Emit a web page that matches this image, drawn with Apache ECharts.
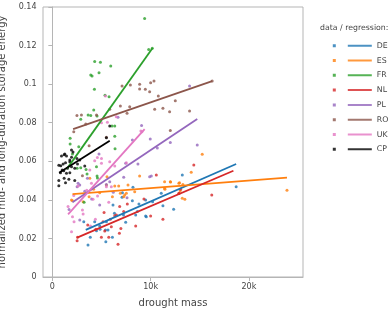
<!DOCTYPE html>
<html>
<head>
<meta charset="utf-8">
<script src="https://cdn.jsdelivr.net/npm/echarts@6/dist/echarts.min.js"></script>
<style>
  html, body { margin: 0; padding: 0; background: #fff; }
  #chart { width: 391px; height: 312px; }
</style>
</head>
<body>
<div id="chart"></div>
<script>
// drought mass in thousands, normalized storage energy
const groupNames = ['DE', 'ES', 'FR', 'NL', 'PL', 'RO', 'UK', 'CP'];
const xTicks = [0, 10, 20];

const deData = [[3.86,0.0206],[3.63,0.0166],[3.2,0.0287],[5.5,0.0287],[8.2,0.0465],[8.81,0.0379],[9.56,0.0313],[11.08,0.0434],[13.22,0.0529],[4.85,0.0247],[5.44,0.0183],[6.32,0.033],[7.24,0.0321],[8.65,0.0339],[7.13,0.0437],[8.14,0.0396],[9.49,0.0399],[8.48,0.0321],[9.49,0.0316],[7.46,0.0284],[11.25,0.037],[12.34,0.0351],[18.7,0.0468],[6.17,0.0373],[7.09,0.0413],[5.4,0.0244],[4.31,0.0287],[4.82,0.0264],[4.49,0.024],[5.66,0.0244],[6.11,0.0206],[10.2,0.039]];
const esData = [[2.05,0.0396],[3.13,0.039],[3.74,0.0416],[5.56,0.052],[6.35,0.0472],[6.92,0.0434],[7.26,0.0416],[7.7,0.0477],[8.88,0.0524],[11.42,0.0494],[13.22,0.0408],[6.11,0.0416],[4.82,0.0437],[15.25,0.0636],[14.13,0.0543],[12.03,0.0493],[12.94,0.0489],[13.28,0.0479],[11.45,0.0455],[13.01,0.0447],[13.48,0.0403],[12.91,0.0434],[23.87,0.045],[12.0,0.0494],[12.87,0.0486],[7.36,0.0425],[7.53,0.0434],[8.38,0.0442],[11.42,0.046],[3.81,0.0512],[5.5,0.0477],[6.75,0.0472],[1.95,0.0399],[4.2,0.0455]];
const frData = [[9.39,0.134],[9.8,0.118],[10.17,0.1186],[4.31,0.1117],[4.89,0.1113],[3.91,0.1047],[4.04,0.1042],[4.75,0.1059],[5.94,0.1094],[4.28,0.0973],[5.36,0.0942],[5.77,0.0935],[4.21,0.0866],[3.64,0.084],[3.91,0.0838],[4.55,0.0835],[2.89,0.0818],[6.35,0.0783],[6.07,0.0783],[6.35,0.073],[1.81,0.0719],[1.81,0.069],[2.69,0.0676],[6.38,0.0665],[2.05,0.0638],[2.89,0.0567],[2.52,0.0564],[3.43,0.0558],[3.53,0.0534],[4.49,0.0572],[4.59,0.0513],[4.55,0.0524],[3.23,0.0387]];
const nlData = [[2.52,0.0188],[5.33,0.0239],[5.74,0.0206],[6.68,0.017],[5.16,0.0287],[7.26,0.0339],[7.63,0.0379],[8.48,0.0264],[9.32,0.0404],[10.0,0.0316],[11.25,0.0299],[14.39,0.0581],[6.85,0.0365],[6.35,0.0318],[10.58,0.0529],[16.22,0.0425],[12.87,0.0434],[13.05,0.0455],[6.97,0.0252],[6.82,0.0227],[5.26,0.0335],[6.52,0.0321],[6.0,0.0261],[4.42,0.0247],[4.99,0.0206],[2.56,0.0206],[5.9,0.03],[3.6,0.027]];
const plData = [[6.68,0.0828],[4.75,0.0638],[9.08,0.0785],[9.96,0.0716],[10.68,0.0669],[12.0,0.0698],[13.96,0.099],[14.74,0.0684],[8.14,0.071],[8.71,0.0586],[7.46,0.059],[7.26,0.0517],[9.9,0.052],[7.6,0.0411],[2.52,0.0468],[2.79,0.0477],[5.84,0.0494],[2.62,0.0486],[3.57,0.0512],[10.07,0.0524],[2.79,0.0296],[4.82,0.0373],[3.3,0.0445],[4.0,0.0405],[6.2,0.044],[1.7,0.035],[5.5,0.048]];
const roData = [[2.96,0.084],[2.18,0.0753],[3.4,0.0793],[3.74,0.0681],[4.49,0.084],[5.84,0.087],[5.5,0.0724],[6.92,0.0887],[7.87,0.0883],[7.6,0.0849],[7.09,0.099],[7.94,0.0995],[8.88,0.0999],[8.88,0.0975],[9.46,0.0973],[10.0,0.1007],[10.34,0.1016],[9.9,0.0961],[10.78,0.0938],[10.41,0.087],[11.25,0.0875],[12.51,0.0914],[12.0,0.0759],[13.96,0.0861],[11.93,0.0857],[16.26,0.1016],[3.06,0.0525],[2.5,0.0838]];
const ukData = [[5.4,0.0938],[5.0,0.08],[4.58,0.0619],[9.01,0.0757],[9.11,0.0753],[7.53,0.0593],[4.31,0.0603],[5.0,0.0615],[5.84,0.0598],[6.5,0.0831],[5.6,0.0802],[3.81,0.0555],[5.0,0.059],[2.62,0.0472],[3.98,0.0486],[2.18,0.0422],[1.6,0.0365],[2.05,0.0313],[1.95,0.0235],[2.21,0.0287],[3.06,0.0347],[3.13,0.0327],[4.14,0.0403],[4.38,0.0299],[3.88,0.0264],[6.0,0.0468],[5.74,0.0387],[6.35,0.0576],[5.5,0.0468],[3.5,0.045],[4.6,0.042]];
const cpData = [[0.66,0.058],[1.1,0.0586],[1.34,0.0593],[1.78,0.0598],[1.54,0.0564],[1.95,0.0572],[2.28,0.0564],[1.17,0.0551],[0.83,0.0541],[1.44,0.0538],[1.78,0.0541],[1.2,0.0512],[1.68,0.0507],[0.66,0.05],[1.34,0.0489],[2.28,0.05],[0.66,0.0473],[3.3,0.0576],[0.93,0.0627],[1.2,0.0634],[1.44,0.0627],[1.95,0.0621],[1.78,0.0607],[0.86,0.0577],[2.56,0.0586],[2.79,0.0607],[1.27,0.0638],[1.95,0.0659],[5.84,0.0783],[5.5,0.0722],[2.1,0.0648],[2.5,0.0615],[1.0,0.0555]];

// regression line endpoints
const deLine = [[3.4,0.0244],[18.7,0.0586]];
const esLine = [[2.05,0.043],[23.87,0.0515]];
const frLine = [[1.5,0.0562],[10.2,0.1187]];
const nlLine = [[2.52,0.0204],[18.42,0.0551]];
const plLine = [[2.05,0.0387],[14.74,0.0819]];
const roLine = [[2.11,0.0767],[16.26,0.1016]];
const ukLine = [[1.6,0.0325],[9.39,0.0767]];
const cpLine = [[0.69,0.0541],[5.84,0.0707]];

const pointSets = [deData, esData, frData, nlData, plData, roData, ukData, cpData];
const lineSets = [deLine, esLine, frLine, nlLine, plLine, roLine, ukLine, cpLine];
const palette = ['#1f77b4', '#ff7f0e', '#2ca02c', '#d62728', '#9467bd', '#8c564b', '#e377c2', '#000000'];

const series = [];
groupNames.forEach((n, i) => {
  series.push({
    name: n, type: 'scatter', data: pointSets[i], symbol: 'circle', symbolSize: 3,
    itemStyle: { color: palette[i] }, color: palette[i], z: 2, silent: true
  });
});
groupNames.forEach((n, i) => {
  series.push({
    name: n, type: 'line', data: lineSets[i], showSymbol: false, symbol: 'none',
    lineStyle: { color: palette[i], width: 1.8 }, itemStyle: { color: palette[i] },
    color: palette[i], z: 3, silent: true
  });
});

const chart = echarts.init(document.getElementById('chart'), null, { renderer: 'canvas' });
const font = 'DejaVu Sans';
chart.setOption({
  animation: false,
  backgroundColor: '#fff',
  textStyle: { fontFamily: font },
  title: {
    text: 'data / regression:', left: 320, top: 24, padding: 0,
    textStyle: { fontFamily: font, fontSize: 7.8, fontWeight: 'normal', color: '#444' }
  },
  legend: {
    data: groupNames, orient: 'vertical', left: 332.8, top: 40.7, padding: 0,
    icon: 'path://M0,-1.5L3,-1.5L3,1.5L0,1.5Z M15,-1L39,-1L39,1L15,1Z',
    itemWidth: 39, itemHeight: 3, itemGap: 4.8, selectedMode: false,
    textStyle: { fontFamily: font, fontSize: 7.8, color: '#444', lineHeight: 10 }
  },
  grid: { left: 43, right: 88, top: 7, bottom: 35, containLabel: false, outerBoundsMode: 'none',
    show: true, borderColor: '#b5b5b5', borderWidth: 1 },
  xAxis: {
    type: 'value', min: -0.95, max: 25.5,
    name: 'drought mass', nameLocation: 'middle', nameGap: 21,
    nameTextStyle: { fontFamily: font, fontSize: 10, color: '#444' },
    axisLine: { show: true, lineStyle: { color: '#b5b5b5' } },
    axisTick: { show: true, length: 4, customValues: xTicks, lineStyle: { color: '#b5b5b5' } },
    axisLabel: { customValues: xTicks, margin: 6, fontFamily: font, fontSize: 8, color: '#444',
      formatter: v => v === 0 ? '0' : v + 'k' },
    splitLine: { show: false }
  },
  yAxis: {
    type: 'value', min: 0, max: 0.14, interval: 0.02,
    name: 'normalized mid- and long-duration storage energy', nameLocation: 'middle', nameGap: 33,
    nameTextStyle: { fontFamily: font, fontSize: 10, color: '#444' },
    axisLine: { show: true, lineStyle: { color: '#b5b5b5' } },
    axisTick: { show: true, length: 4, lineStyle: { color: '#b5b5b5' } },
    axisLabel: { margin: 6.5, fontFamily: font, fontSize: 8, color: '#444' },
    splitLine: { show: false }
  },
  series: series
});
</script>
</body>
</html>
